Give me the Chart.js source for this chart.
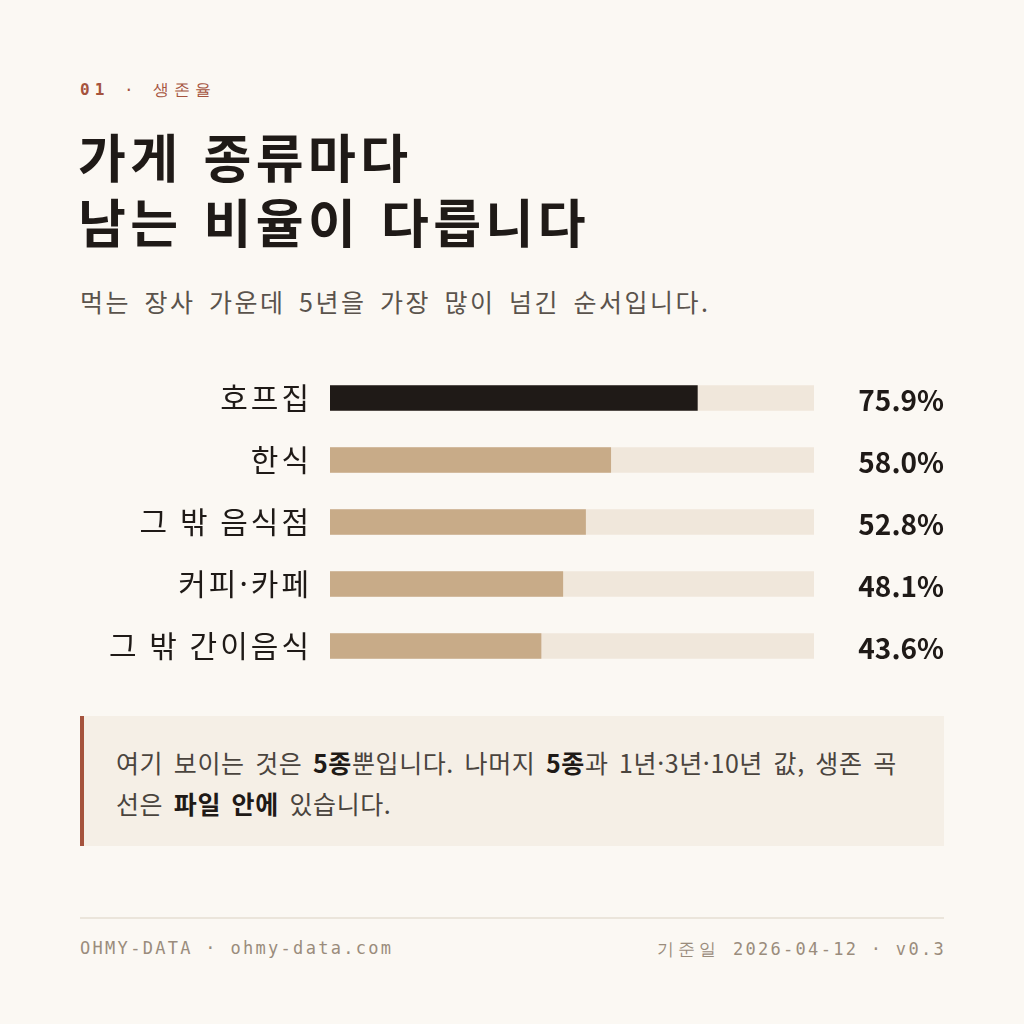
<!DOCTYPE html>
<html lang="ko">
<head>
    <meta charset="UTF-8">
    <title>가게 종류마다 남는 비율이 다릅니다</title>
    <script src="https://cdn.jsdelivr.net/npm/chart.js"></script>
    <style>
        html, body {
            margin: 0;
            padding: 0;
            background: #fbf8f3;
        }
        body {
            width: 1024px;
            height: 1024px;
            position: relative;
            font-family: "Noto Sans CJK KR", "Noto Sans", sans-serif;
            color: #1f1a17;
            overflow: hidden;
        }
        .kicker {
            position: absolute;
            left: 80px;
            top: 80px;
            font-family: "DejaVu Sans Mono", monospace;
            font-size: 16px;
            letter-spacing: 5px;
            color: #a5533d;
        }
        .kicker b { font-weight: bold; }
        h1 {
            position: absolute;
            left: 78px;
            top: 123px;
            margin: 0;
            font-size: 52px;
            line-height: 65px;
            font-weight: 700;
            letter-spacing: 4.4px;
            word-spacing: 2px;
        }
        .sub {
            position: absolute;
            left: 80px;
            top: 283px;
            margin: 0;
            font-size: 25px;
            letter-spacing: 2.5px;
            word-spacing: 4px;
            color: #5a534c;
        }
        .chart-box {
            position: absolute;
            left: 80px;
            top: 367px;
            width: 864px;
            height: 310px;
        }
        .note {
            position: absolute;
            left: 80px;
            top: 716px;
            width: 864px;
            height: 130px;
            box-sizing: border-box;
            background: #f5efe6;
            border-left: 4px solid #a5533d;
            padding: 26px 36px 0 32px;
            font-size: 25px;
            line-height: 41px;
            letter-spacing: 0.6px;
            word-spacing: 3px;
            color: #4a443e;
        }
        .note b { color: #1f1a17; }
        .rule {
            position: absolute;
            left: 80px;
            top: 917px;
            width: 864px;
            height: 2px;
            background: #ebe5db;
        }
        .foot {
            position: absolute;
            top: 938px;
            font-family: "DejaVu Sans Mono", monospace;
            font-size: 17px;
            letter-spacing: 2.3px;
            color: #9a8c7c;
        }
        .foot.left { left: 80px; }
        .foot.right { right: 78px; }
        .foot .ko { letter-spacing: 4px; }
    </style>
</head>
<body>
    <div class="kicker"><b>01</b> · 생존율</div>
    <h1>가게 종류마다<br>남는 비율이 다릅니다</h1>
    <p class="sub">먹는 장사 가운데 5년을 가장 많이 넘긴 순서입니다.</p>

    <div class="chart-box"><canvas id="myChart"></canvas></div>

    <div class="note">여기 보이는 것은 <b>5종</b>뿐입니다. 나머지 <b>5종</b>과 1년·3년·10년 값, 생존 곡선은 <b>파일 안에</b> 있습니다.</div>

    <div class="rule"></div>
    <div class="foot left">OHMY-DATA · ohmy-data.com</div>
    <div class="foot right"><span class="ko">기준일</span> 2026-04-12 · v0.3</div>

    <script>
        // 업종별 5년 생존율 (%)
        const categories = ['호프집', '한식', '그 밖 음식점', '커피·카페', '그 밖 간이음식'];
        const survival5y = [75.9, 58.0, 52.8, 48.1, 43.6];
        const trackMax = [100, 100, 100, 100, 100];

        const barColors = survival5y.map((v, i) => i === 0 ? '#1f1a17' : '#c8ab88');

        // 축 라벨 글자 간격 (캔버스 기본 상태에 설정)
        const labelSpacing = {
            id: 'labelSpacing',
            beforeDraw(chart) {
                chart.ctx.letterSpacing = '3px';
                chart.ctx.wordSpacing = '0px';
            }
        };

        // 오른쪽 끝에 퍼센트 값 찍기
        const valueLabels = {
            id: 'valueLabels',
            afterDatasetsDraw(chart) {
                const ctx = chart.ctx;
                const yScale = chart.scales.y;
                ctx.save();
                ctx.letterSpacing = '0px';
                ctx.font = 'bold 28px "Noto Sans CJK KR", sans-serif';
                ctx.fillStyle = '#1f1a17';
                ctx.textAlign = 'right';
                ctx.textBaseline = 'middle';
                survival5y.forEach((v, i) => {
                    ctx.fillText(v.toFixed(1) + '%', chart.width, yScale.getPixelForValue(i) + 2);
                });
                ctx.restore();
            }
        };

        const ctx = document.getElementById('myChart').getContext('2d');
        new Chart(ctx, {
            type: 'bar',
            data: {
                labels: categories,
                datasets: [
                    {
                        label: '5년 생존율',
                        data: survival5y,
                        backgroundColor: barColors,
                        barThickness: 25,
                        grouped: false,
                        order: 0
                    },
                    {
                        label: 'track',
                        data: trackMax,
                        backgroundColor: '#f0e7db',
                        barThickness: 25,
                        grouped: false,
                        order: 1
                    }
                ]
            },
            options: {
                indexAxis: 'y',
                responsive: true,
                maintainAspectRatio: false,
                animation: false,
                layout: { padding: { right: 130, top: 0, bottom: 0, left: 0 } },
                plugins: {
                    legend: { display: false },
                    tooltip: { enabled: false }
                },
                scales: {
                    x: {
                        display: false,
                        min: 0,
                        max: 100
                    },
                    y: {
                        grid: { display: false },
                        border: { display: false },
                        afterFit(scale) {
                            scale.width = 250;
                            scale.paddingTop = 0;
                            scale.paddingBottom = 0;
                        },
                        ticks: {
                            color: '#1f1a17',
                            padding: 10,
                            font: { family: '"Noto Sans CJK KR", sans-serif', size: 30 }
                        }
                    }
                }
            },
            plugins: [labelSpacing, valueLabels]
        });
    </script>
</body>
</html>
